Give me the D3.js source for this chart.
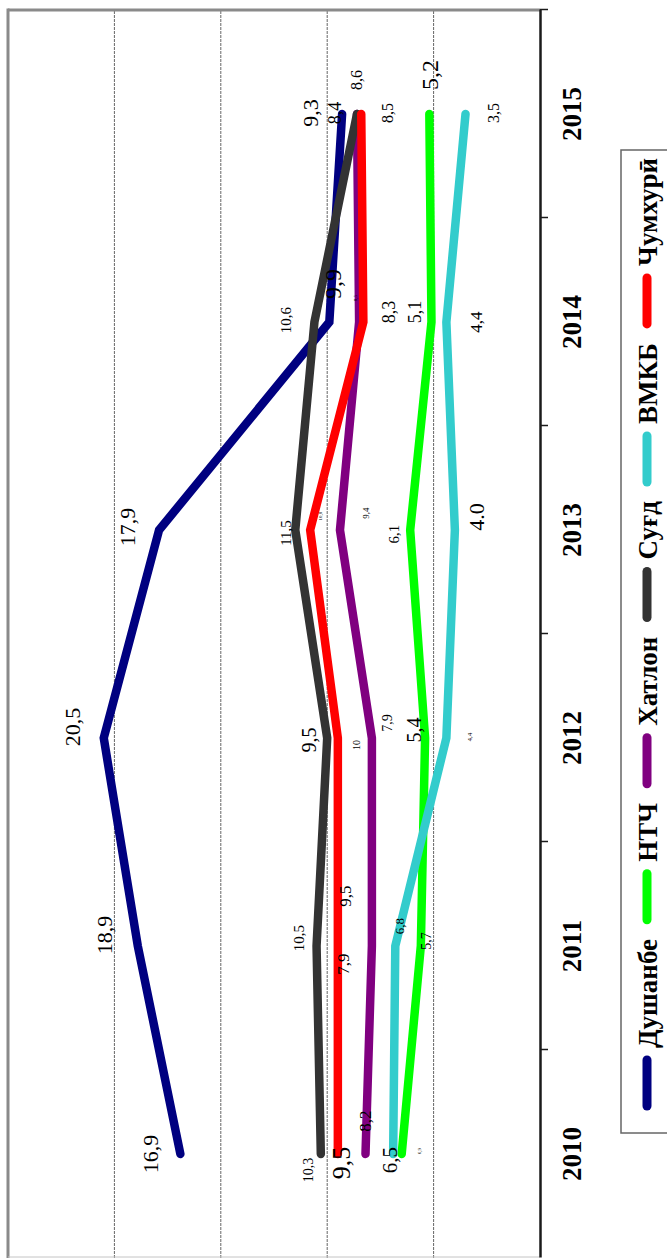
<!DOCTYPE html>
<html>
<head>
<meta charset="utf-8">
<script src="https://cdn.jsdelivr.net/npm/d3@7"></script>
<style>
  html, body { margin: 0; padding: 0; background: #fff; }
  svg { display: block; }
  text { font-family: 'Liberation Serif', 'Times New Roman', serif; fill: #000; }
</style>
</head>
<body>
<svg id="chart" width="667" height="1258"></svg>
<script>
// Data
const years = ['2010', '2011', '2012', '2013', '2014', '2015'];
const seriesNames = ['Душанбе', 'НТЧ', 'Хатлон', 'Суғд', 'ВМКБ', 'Чумхурӣ'];
const dushanbe = [16.9, 18.9, 20.5, 17.9, 9.9, 9.3];
const ntch = [6.5, 5.6, 5.4, 6.1, 5.1, 5.2];
const khatlon = [8.2, 7.9, 7.9, 9.4, 8.5, 8.6];
const sughd = [10.3, 10.5, 10.0, 11.5, 10.6, 8.6];
const vmkb = [6.9, 6.8, 4.4, 4.0, 4.4, 3.5];
const republic = [9.5, 9.5, 9.5, 10.8, 8.3, 8.4];
const gridValues = [5, 10, 15, 20];

// data labels as printed on the chart (one per point)
const dushanbeLabels = ['16,9', '18,9', '20,5', '17,9', '9,9', '9,3'];
const ntchLabels = ['6,9', '5,7', '5,4', '6,1', '5,1', '5,2'];
const khatlonLabels = ['8,2', '7,9', '7,9', '9,4', '8,5', '8,6'];
const sughdLabels = ['10,3', '10,5', '9,5', '11,5', '10,6', '8,4'];
const vmkbLabels = ['6,5', '6,8', '4,4', '4.0', '4,4', '3,5'];
const republicLabels = ['9,5', '9,5', '10', '10,8', '8,3', '8,5'];

const seriesValues = [dushanbe, ntch, khatlon, sughd, vmkb, republic];
const seriesLabels = [dushanbeLabels, ntchLabels, khatlonLabels, sughdLabels, vmkbLabels, republicLabels];
const colors = ['#000080', '#00ff00', '#800080', '#333333', '#33cccc', '#ff0000'];

// label placement: [font size, shift across (screen right), shift along (screen down)]
const labelLayout = [
  [[22, -30, 0], [22, -33, -11], [22, -31, -11], [22, -32, -3], [24, 4, -38], [22, -32, -1]],
  [[5, 18, -3], [14, 6, -5], [20, -11, -8], [15, -16, 4], [18, -16, -10], [24, 1, -39]],
  [[17, 0, -33], [17, -28, 18], [14, 16, -15], [9, 26, -17], [5, -4, -24], [16, 0, -34]],
  [[14, -12, 16], [15, -18, -8], [20, -18, 2], [15, -9, 3], [15, -28, -2], [18, -22, -1]],
  [[21, -3, 6], [13, 4, -20], [7, 24, -1], [22, 22, -13], [17, 30, 0], [16, 28, -1]],
  [[26, 4, 9], [17, 8, -50], [10, 19, 7], [5, 10, -14], [18, 26, -10], [16, 26, -1]]
];

const W = 667, H = 1258;
const svg = d3.select('#chart');

// The chart is drawn upright and then turned a quarter left
const g = svg.append('g').attr('transform', `translate(0,${H}) rotate(-90)`);

const plotLeft = 0, plotRight = 1248, plotTop = 8, plotBottom = 540;

const x = d3.scaleBand().domain(years).range([plotLeft, plotRight]);
const y = d3.scaleLinear().domain([0, 25]).range([plotBottom, plotTop]);
const cx = yr => x(yr) + x.bandwidth() / 2;

// gridlines
g.selectAll('.grid')
  .data(gridValues)
  .enter()
  .append('line')
  .attr('class', 'grid')
  .attr('x1', plotLeft).attr('x2', plotRight)
  .attr('y1', d => y(d)).attr('y2', d => y(d))
  .attr('stroke', '#666')
  .attr('stroke-width', 1)
  .attr('stroke-dasharray', '3,1');

// frame
g.append('line')
  .attr('x1', plotLeft).attr('x2', plotRight + 1.5)
  .attr('y1', plotTop).attr('y2', plotTop)
  .attr('stroke', '#8a8a8a').attr('stroke-width', 3);
g.append('line')
  .attr('x1', plotRight).attr('x2', plotRight)
  .attr('y1', plotTop).attr('y2', plotBottom)
  .attr('stroke', '#8a8a8a').attr('stroke-width', 3);
g.append('line')
  .attr('x1', plotLeft + 1).attr('x2', plotLeft + 1)
  .attr('y1', plotTop).attr('y2', plotBottom)
  .attr('stroke', '#c4c4c4').attr('stroke-width', 1);

// category axis with ticks between the years
const tickScale = d3.scaleLinear().domain([0, years.length]).range([plotLeft, plotRight]);
const axis = g.append('g')
  .attr('transform', `translate(0,${plotBottom})`)
  .call(d3.axisBottom(tickScale)
    .tickValues(d3.range(1, years.length + 1))
    .tickFormat('')
    .tickSizeInner(8)
    .tickSizeOuter(0));
axis.select('.domain').attr('stroke', '#1a1a1a').attr('stroke-width', 2.5);
axis.selectAll('.tick line').attr('stroke', '#1a1a1a').attr('stroke-width', 1.5);

g.selectAll('.year')
  .data(years)
  .enter()
  .append('text')
  .attr('class', 'year')
  .attr('x', d => cx(d))
  .attr('y', plotBottom + 32)
  .attr('text-anchor', 'middle')
  .attr('dominant-baseline', 'central')
  .style('font-size', '27px')
  .style('font-weight', 'bold')
  .text(d => d);

// lines
const line = d3.line()
  .x((d, i) => cx(years[i]))
  .y(d => y(d));

g.selectAll('.series')
  .data(seriesValues)
  .enter()
  .append('path')
  .attr('class', 'series')
  .attr('d', d => line(d))
  .attr('fill', 'none')
  .attr('stroke', (d, i) => colors[i])
  .attr('stroke-width', 8.5)
  .attr('stroke-linecap', 'round')
  .attr('stroke-linejoin', 'miter');

// data labels
const labelData = [];
seriesValues.forEach((vals, s) => {
  vals.forEach((v, i) => {
    const [size, across, along] = labelLayout[s][i];
    labelData.push({
      text: seriesLabels[s][i],
      size,
      px: cx(years[i]) - along,
      py: y(v) + across
    });
  });
});

g.selectAll('.dlabel')
  .data(labelData)
  .enter()
  .append('text')
  .attr('class', 'dlabel')
  .attr('x', d => d.px)
  .attr('y', d => d.py)
  .attr('text-anchor', 'middle')
  .attr('dominant-baseline', 'central')
  .style('font-size', d => d.size + 'px')
  .text(d => d.text);

// legend
const legendStart = 125, legendEnd = 1108, legendTop = 621, legendMid = 647;
g.append('rect')
  .attr('x', legendStart).attr('y', legendTop)
  .attr('width', legendEnd - legendStart).attr('height', 80)
  .attr('fill', 'none')
  .attr('stroke', '#666')
  .attr('stroke-width', 1.5);

const swatchLen = 46, swatchGap = 8;
const legend = g.append('g').attr('class', 'legend');
const items = legend.selectAll('.item')
  .data(seriesNames)
  .enter()
  .append('g')
  .attr('class', 'item');

items.append('line')
  .attr('x1', 0).attr('x2', swatchLen)
  .attr('y1', legendMid).attr('y2', legendMid)
  .attr('stroke', (d, i) => colors[i])
  .attr('stroke-width', 9)
  .attr('stroke-linecap', 'round');

items.append('text')
  .attr('x', swatchLen + 4 + swatchGap)
  .attr('y', legendMid + 1)
  .attr('dominant-baseline', 'central')
  .style('font-size', '27px')
  .style('font-weight', 'bold')
  .text(d => d);

// spread items evenly inside the box
const widths = [];
items.each(function () {
  widths.push(swatchLen + 4 + swatchGap + this.querySelector('text').getComputedTextLength());
});
const first = 152, last = 1100;
const gap = (last - first - d3.sum(widths)) / (widths.length - 1);
let pos = first;
items.attr('transform', (d, i) => {
  const t = `translate(${pos},0)`;
  pos += widths[i] + gap;
  return t;
});
</script>
</body>
</html>
